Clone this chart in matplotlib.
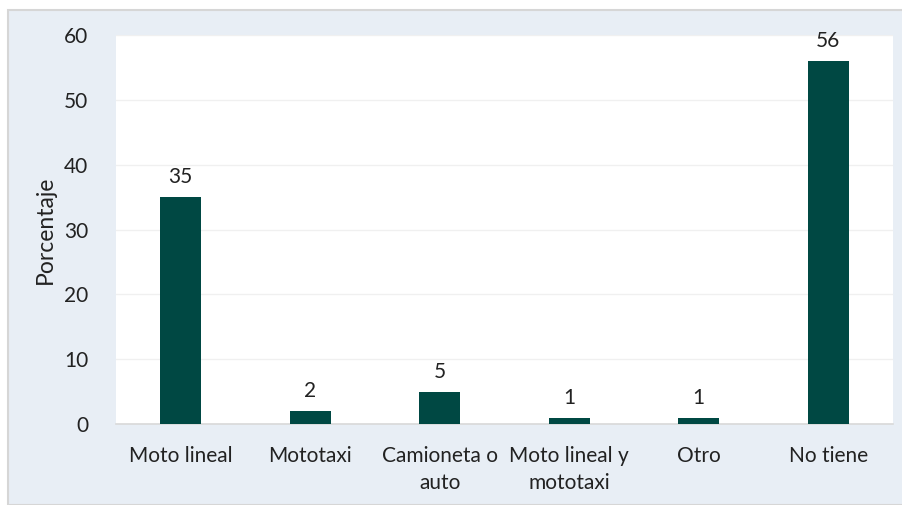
import matplotlib.pyplot as plt
from matplotlib.patches import Rectangle

categorias = ['Moto lineal', 'Mototaxi', 'Camioneta o\nauto', 'Moto lineal y\nmototaxi', 'Otro', 'No tiene']
porcentajes = [35, 2, 5, 1, 1, 56]
etiquetas = ['35', '2', '5', '1', '1', '56']

plt.rcParams['font.family'] = ['Lato', 'DejaVu Sans']

fig = plt.figure(figsize=(9.02, 5.05), dpi=100)
fig.patch.set_facecolor('white')
# fondo celeste con borde gris
fig.patches.append(Rectangle((8 / 902, 0), 1, 1 - 10 / 505, transform=fig.transFigure,
                             facecolor='#E8EEF5', edgecolor='#D6D6D6', linewidth=1.5, zorder=-5))

ax = fig.add_axes([116 / 902, 1 - 424 / 505, 777 / 902, 389 / 505])
ax.set_facecolor('white')

x = range(len(categorias))
ax.bar(x, porcentajes, width=0.32, color='#004843', zorder=3)
for i, v in enumerate(porcentajes):
    ax.annotate(etiquetas[i], (i, v), xytext=(0, 7), textcoords='offset points',
                ha='center', va='bottom', fontsize=15, color='#222222')

ax.set_xlim(-0.5, len(categorias) - 0.5)
ax.set_ylim(0, 60)
ax.set_yticks(range(0, 61, 10))
ax.set_xticks(list(x))
ax.set_xticklabels(categorias, fontsize=15, color='#222222', linespacing=1.45)
ax.tick_params(axis='y', labelsize=15, colors='#222222', length=0, pad=20)
ax.tick_params(axis='x', length=0, pad=16)
ax.grid(axis='y', color='#F0F0F0', linewidth=1, zorder=0)
for s in ['top', 'right', 'left']:
    ax.spines[s].set_visible(False)
ax.spines['bottom'].set_color('#D9D9D9')
ax.spines['bottom'].set_linewidth(1.2)
ax.set_ylabel('Porcentaje', fontsize=16.5, color='#222222', labelpad=6)

plt.savefig('out.png', dpi=100, facecolor=fig.get_facecolor())
